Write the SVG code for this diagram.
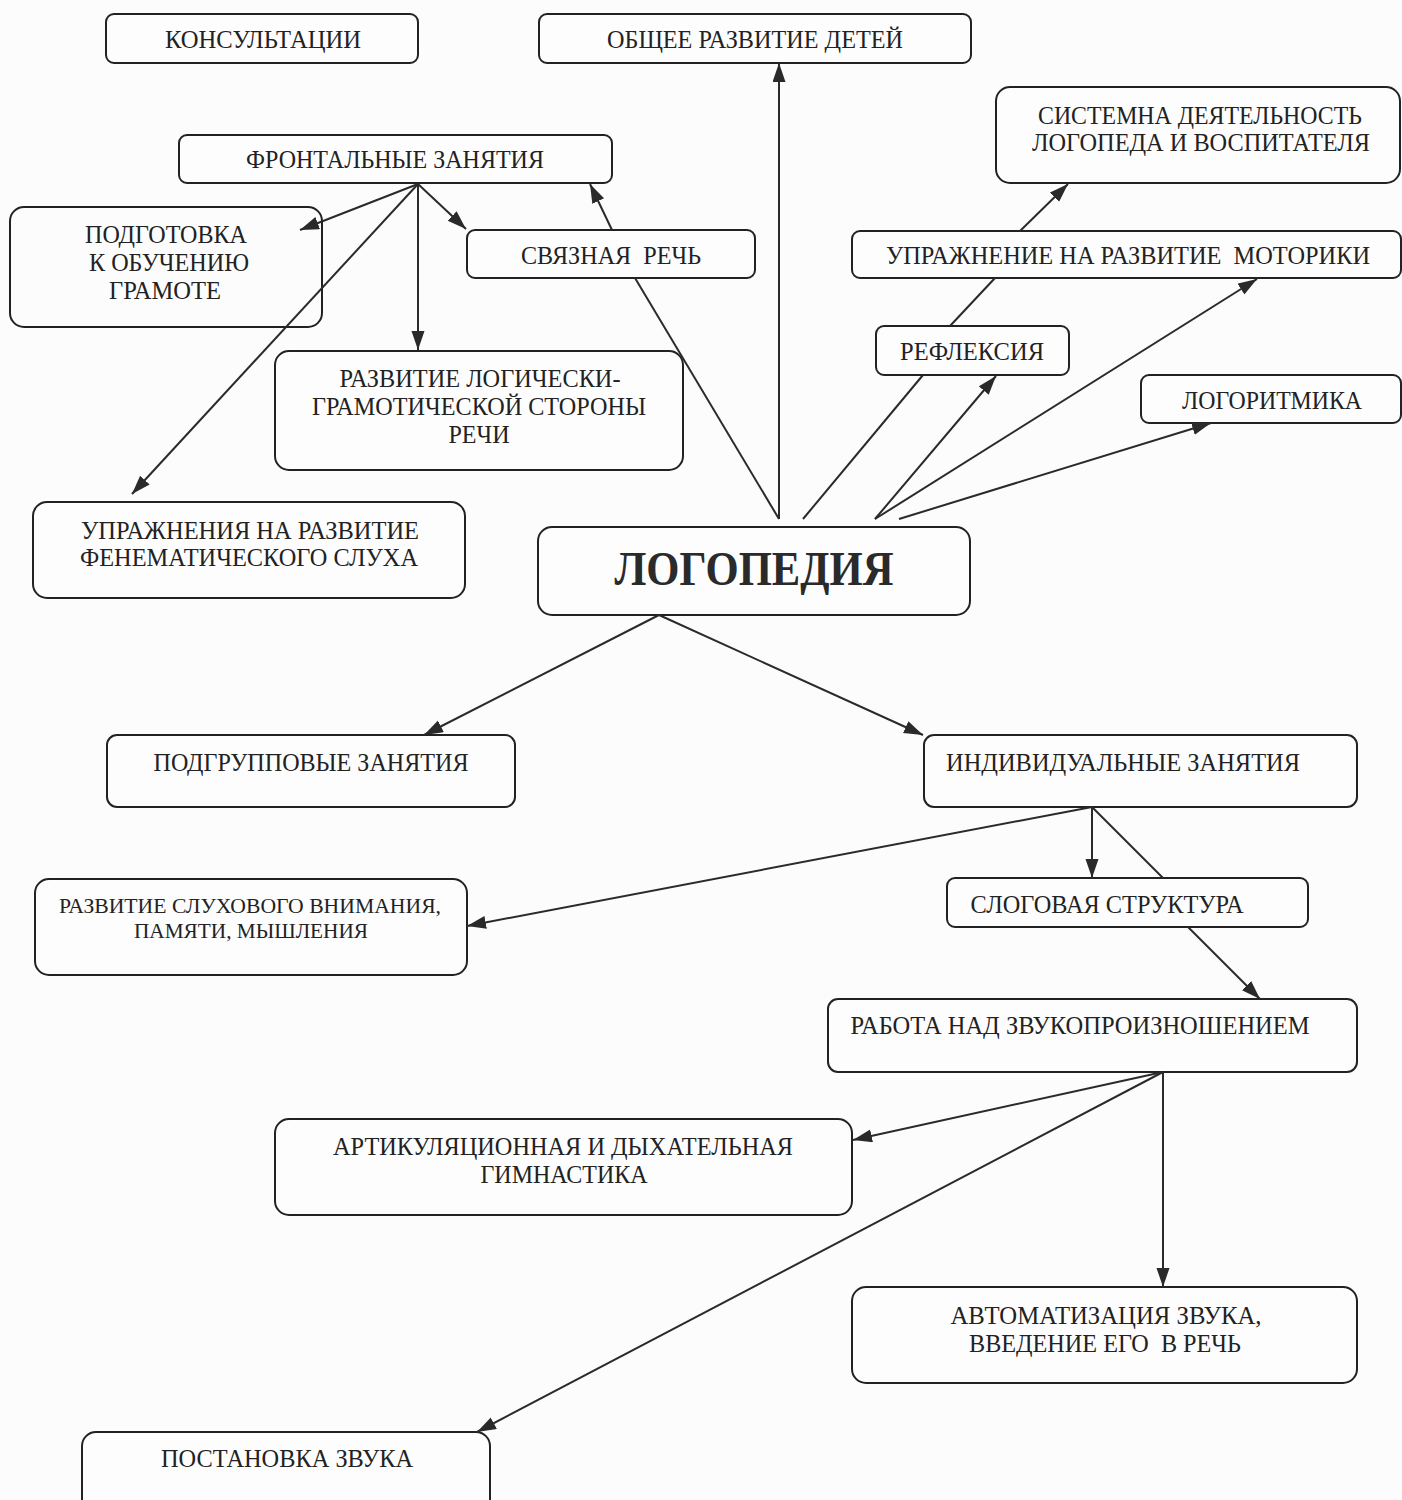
<svg xmlns="http://www.w3.org/2000/svg" width="1402" height="1500" viewBox="0 0 1402 1500">
<style>
.box{fill:#fdfdfe;stroke:#222;stroke-width:2}
.t{font-family:"Liberation Serif","Times New Roman",serif;font-size:24.5px;fill:#222;text-anchor:middle;white-space:pre}
.ts{font-size:22px}
.big{font-family:"Liberation Serif","Times New Roman",serif;font-size:49px;font-weight:bold;fill:#2a2a2a;text-anchor:middle}
.c line{stroke:#2a2a2a;stroke-width:2}
.a{marker-end:url(#arr)}
</style>
<defs>
<marker id="arr" markerUnits="userSpaceOnUse" markerWidth="20" markerHeight="14" refX="19" refY="6.5" orient="auto">
<path d="M0,0 L19,6.5 L0,13 z" fill="#2a2a2a"/>
</marker>
</defs>
<rect x="0" y="0" width="1402" height="1500" fill="#fcfcfd"/>

<g id="n-konsult"><rect class="box" x="106" y="14" width="312" height="49" rx="8"/><text class="t" x="263" y="48" textLength="196" lengthAdjust="spacingAndGlyphs">КОНСУЛЬТАЦИИ</text></g>
<g id="n-obshchee"><rect class="box" x="539" y="14" width="432" height="49" rx="8"/><text class="t" x="755" y="48" textLength="296" lengthAdjust="spacingAndGlyphs">ОБЩЕЕ РАЗВИТИЕ ДЕТЕЙ</text></g>
<g id="n-sistemna"><rect class="box" x="996" y="87" width="404" height="96" rx="14"/><text class="t" x="1200" y="124" textLength="324" lengthAdjust="spacingAndGlyphs">СИСТЕМНА ДЕЯТЕЛЬНОСТЬ</text><text class="t" x="1201" y="151" textLength="338" lengthAdjust="spacingAndGlyphs">ЛОГОПЕДА И ВОСПИТАТЕЛЯ</text></g>
<g id="n-frontal"><rect class="box" x="179" y="135" width="433" height="48" rx="8"/><text class="t" x="395" y="168" textLength="298" lengthAdjust="spacingAndGlyphs">ФРОНТАЛЬНЫЕ ЗАНЯТИЯ</text></g>
<g id="n-podgotovka"><rect class="box" x="10" y="207" width="312" height="120" rx="14" style="fill:none"/><text class="t" x="166" y="243" textLength="162" lengthAdjust="spacingAndGlyphs">ПОДГОТОВКА</text><text class="t" x="169" y="271" textLength="160" lengthAdjust="spacingAndGlyphs">К ОБУЧЕНИЮ</text><text class="t" x="165" y="299" textLength="112" lengthAdjust="spacingAndGlyphs">ГРАМОТЕ</text></g>
<g id="n-svyaznaya"><rect class="box" x="467" y="230" width="288" height="48" rx="8"/><text class="t" x="611" y="264" textLength="180" lengthAdjust="spacingAndGlyphs">СВЯЗНАЯ  РЕЧЬ</text></g>
<g id="n-motoriki"><rect class="box" x="852" y="231" width="549" height="47" rx="8"/><text class="t" x="1128" y="264" textLength="484" lengthAdjust="spacingAndGlyphs">УПРАЖНЕНИЕ НА РАЗВИТИЕ  МОТОРИКИ</text></g>
<g id="n-refleksiya"><rect class="box" x="876" y="326" width="193" height="49" rx="8"/><text class="t" x="972" y="360" textLength="144" lengthAdjust="spacingAndGlyphs">РЕФЛЕКСИЯ</text></g>
<g id="n-logoritmika"><rect class="box" x="1141" y="375" width="260" height="48" rx="8"/><text class="t" x="1272" y="409" textLength="180" lengthAdjust="spacingAndGlyphs">ЛОГОРИТМИКА</text></g>
<g id="n-logicheski"><rect class="box" x="275" y="351" width="408" height="119" rx="14"/><text class="t" x="480" y="387" textLength="281" lengthAdjust="spacingAndGlyphs">РАЗВИТИЕ ЛОГИЧЕСКИ-</text><text class="t" x="479" y="415" textLength="334" lengthAdjust="spacingAndGlyphs">ГРАМОТИЧЕСКОЙ СТОРОНЫ</text><text class="t" x="479" y="443" textLength="61" lengthAdjust="spacingAndGlyphs">РЕЧИ</text></g>
<g id="n-fenem"><rect class="box" x="33" y="502" width="432" height="96" rx="14"/><text class="t" x="250" y="539" textLength="338" lengthAdjust="spacingAndGlyphs">УПРАЖНЕНИЯ НА РАЗВИТИЕ</text><text class="t" x="249" y="566" textLength="338" lengthAdjust="spacingAndGlyphs">ФЕНЕМАТИЧЕСКОГО СЛУХА</text></g>
<g id="n-logopediya"><rect class="box" x="538" y="527" width="432" height="88" rx="14"/><text class="big" x="754" y="585" textLength="279" lengthAdjust="spacingAndGlyphs">ЛОГОПЕДИЯ</text></g>
<g id="n-podgrupp"><rect class="box" x="107" y="735" width="408" height="72" rx="10"/><text class="t" x="311" y="771" textLength="315" lengthAdjust="spacingAndGlyphs">ПОДГРУППОВЫЕ ЗАНЯТИЯ</text></g>
<g id="n-individ"><rect class="box" x="924" y="735" width="433" height="72" rx="10"/><text class="t" x="1123" y="771" textLength="354" lengthAdjust="spacingAndGlyphs">ИНДИВИДУАЛЬНЫЕ ЗАНЯТИЯ</text></g>
<g id="n-sluhovogo"><rect class="box" x="35" y="879" width="432" height="96" rx="14"/><text class="t ts" x="250" y="913" textLength="382" lengthAdjust="spacingAndGlyphs">РАЗВИТИЕ СЛУХОВОГО ВНИМАНИЯ,</text><text class="t ts" x="251" y="938" textLength="234" lengthAdjust="spacingAndGlyphs">ПАМЯТИ, МЫШЛЕНИЯ</text></g>
<g id="n-slogovaya"><rect class="box" x="947" y="878" width="361" height="49" rx="8"/><text class="t" x="1107" y="913" textLength="273" lengthAdjust="spacingAndGlyphs">СЛОГОВАЯ СТРУКТУРА</text></g>
<g id="n-rabota"><rect class="box" x="828" y="999" width="529" height="73" rx="10"/><text class="t" x="1080" y="1034" textLength="459" lengthAdjust="spacingAndGlyphs">РАБОТА НАД ЗВУКОПРОИЗНОШЕНИЕМ</text></g>
<g id="n-artik"><rect class="box" x="275" y="1119" width="577" height="96" rx="14"/><text class="t" x="563" y="1155" textLength="460" lengthAdjust="spacingAndGlyphs">АРТИКУЛЯЦИОННАЯ И ДЫХАТЕЛЬНАЯ</text><text class="t" x="564" y="1183" textLength="167" lengthAdjust="spacingAndGlyphs">ГИМНАСТИКА</text></g>
<g id="n-avtomat"><rect class="box" x="852" y="1287" width="505" height="96" rx="14"/><text class="t" x="1106" y="1324" textLength="311" lengthAdjust="spacingAndGlyphs">АВТОМАТИЗАЦИЯ ЗВУКА,</text><text class="t" x="1105" y="1352" textLength="272" lengthAdjust="spacingAndGlyphs">ВВЕДЕНИЕ ЕГО  В РЕЧЬ</text></g>
<g id="n-postanovka"><rect class="box" x="82" y="1432" width="408" height="100" rx="14"/><text class="t" x="287" y="1467" textLength="252" lengthAdjust="spacingAndGlyphs">ПОСТАНОВКА ЗВУКА</text></g>

<g id="connectors" class="c">
<line class="a" x1="779" y1="519" x2="779" y2="63"/>
<line x1="779" y1="519" x2="635" y2="278"/>
<line class="a" x1="612" y1="230" x2="590" y2="184"/>
<line x1="803" y1="519" x2="923" y2="375"/>
<line x1="950" y1="326" x2="995" y2="278"/>
<line class="a" x1="1020" y1="231" x2="1068" y2="184"/>
<line class="a" x1="875" y1="519" x2="996" y2="376"/>
<line class="a" x1="875" y1="519" x2="1257" y2="279"/>
<line class="a" x1="899" y1="519" x2="1211" y2="423"/>
<line class="a" x1="418" y1="184" x2="300" y2="230"/>
<line class="a" x1="418" y1="184" x2="466" y2="229"/>
<line class="a" x1="418" y1="184" x2="418" y2="350"/>
<line class="a" x1="418" y1="184" x2="132" y2="494"/>
<line class="a" x1="659" y1="615" x2="424" y2="735"/>
<line class="a" x1="659" y1="615" x2="923" y2="735"/>
<line class="a" x1="1092" y1="807" x2="467" y2="926"/>
<line class="a" x1="1092" y1="807" x2="1092" y2="878"/>
<line x1="1092" y1="807" x2="1163" y2="878"/>
<line class="a" x1="1188" y1="927" x2="1260" y2="999"/>
<line class="a" x1="1163" y1="1072" x2="853" y2="1140"/>
<line class="a" x1="1163" y1="1072" x2="1163" y2="1287"/>
<line class="a" x1="1163" y1="1072" x2="477" y2="1432"/>
</g>
</svg>
